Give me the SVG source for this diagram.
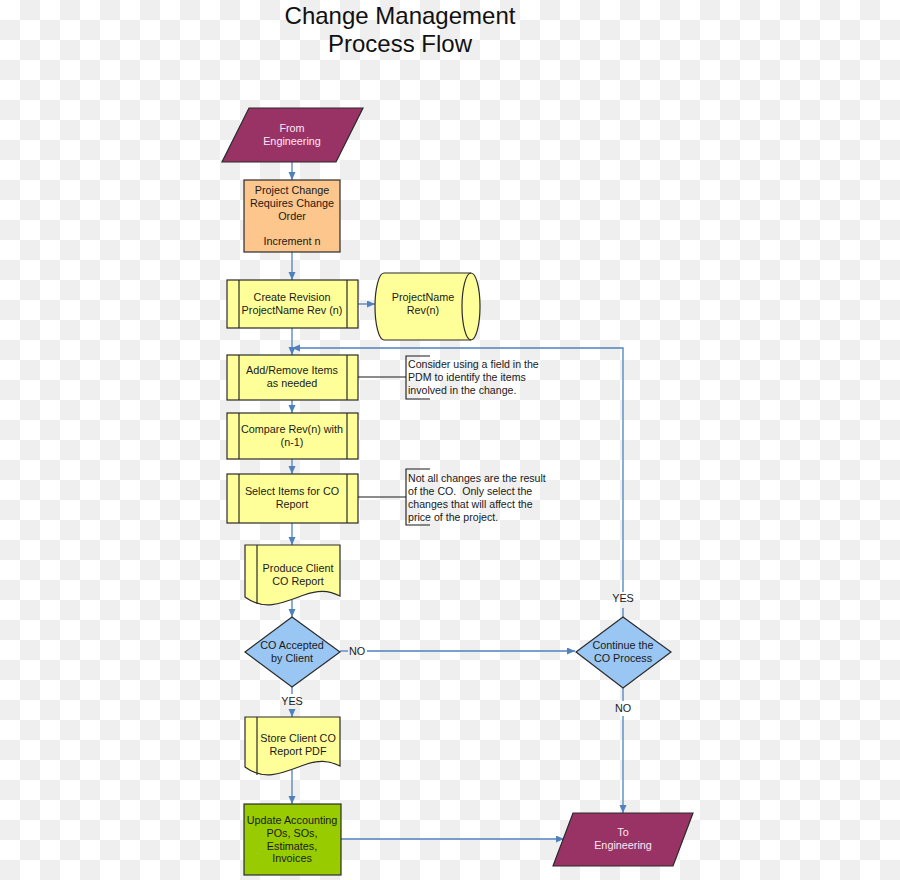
<svg xmlns="http://www.w3.org/2000/svg" width="900" height="880" viewBox="0 0 900 880">
<defs>
<pattern id="checker" x="0" y="0" width="40" height="40" patternUnits="userSpaceOnUse">
<rect width="40" height="40" fill="#ffffff"/>
<rect x="20" y="0" width="20" height="20" fill="#efefef"/>
<rect x="0" y="20" width="20" height="20" fill="#efefef"/>
</pattern>
<marker id="arr" markerUnits="userSpaceOnUse" markerWidth="9" markerHeight="8" refX="8" refY="3.5" orient="auto">
<path d="M0,0 L8,3.5 L0,7 Z" fill="#4f81bd"/>
</marker>
<style>
.t{font-family:"Liberation Sans",Arial,sans-serif;font-size:10.8px;fill:#1a1a1a;text-anchor:middle}
.a{font-family:"Liberation Sans",Arial,sans-serif;font-size:10.6px;fill:#1a1a1a;white-space:pre}
.w{font-family:"Liberation Sans",Arial,sans-serif;font-size:10.8px;fill:#fde6f3;text-anchor:middle}
.title{font-family:"Liberation Sans",Arial,sans-serif;font-size:24px;fill:#111;text-anchor:middle}
.n{stroke:#2b2b2b;stroke-width:1.2}
.io{fill:#993366}
.or{fill:#fcc68c}
.ye{fill:#ffff99}
.bl{fill:#99c6f2}
.gr{fill:#99cc00}
.c{fill:none;stroke:#4f81bd;stroke-width:1.3}
.k{fill:none;stroke:#1a1a1a;stroke-width:1.1}
</style>
</defs>
<rect width="900" height="880" fill="url(#checker)"/>

<g id="title">
<text class="title" x="400" y="24">Change Management</text>
<text class="title" x="400" y="52">Process Flow</text>
</g>

<g id="connectors">
<path class="c" d="M292,162 V180" marker-end="url(#arr)"/>
<path class="c" d="M292,252 V280" marker-end="url(#arr)"/>
<path class="c" d="M358,304 H375" marker-end="url(#arr)"/>
<path class="c" d="M292,328 V355" marker-end="url(#arr)"/>
<path class="c" d="M623,617 V608"/>
<path class="c" d="M623,592 V348 H292" marker-end="url(#arr)"/>
<path class="c" d="M292,400 V413" marker-end="url(#arr)"/>
<path class="c" d="M292,459 V474" marker-end="url(#arr)"/>
<path class="c" d="M292,523 V545" marker-end="url(#arr)"/>
<path class="c" d="M292,600 V617" marker-end="url(#arr)"/>
<path class="c" d="M340,651 H348"/>
<path class="c" d="M367,651 H575" marker-end="url(#arr)"/>
<path class="c" d="M292,687 V694"/>
<path class="c" d="M292,709 V717" marker-end="url(#arr)"/>
<path class="c" d="M623,688 V701"/>
<path class="c" d="M623,716 V813" marker-end="url(#arr)"/>
<path class="c" d="M292,770 V804" marker-end="url(#arr)"/>
<path class="c" d="M341,839 H564" marker-end="url(#arr)"/>
<path class="k" d="M358,377 H406"/>
<path class="k" d="M358,497 H406"/>
<text class="t" x="357" y="655">NO</text>
<text class="t" x="292" y="705">YES</text>
<text class="t" x="623" y="602">YES</text>
<text class="t" x="623" y="712">NO</text>
</g>

<g id="from-engineering">
<path class="n io" d="M249,108 H363 L336,162 H222 Z"/>
<text class="w" x="292" y="132">From</text>
<text class="w" x="292" y="145">Engineering</text>
</g>

<g id="project-change">
<rect class="n or" x="244" y="180" width="96" height="72"/>
<text class="t" x="292" y="194">Project Change</text>
<text class="t" x="292" y="207">Requires Change</text>
<text class="t" x="292" y="220">Order</text>
<text class="t" x="292" y="245">Increment n</text>
</g>

<g id="create-revision">
<rect class="n ye" x="227" y="280" width="131" height="48"/>
<path class="n" fill="none" d="M239,280 V328 M347,280 V328"/>
<text class="t" x="292" y="301">Create Revision</text>
<text class="t" x="292" y="314">ProjectName Rev (n)</text>
</g>

<g id="project-name-rev">
<path class="n ye" d="M384,273 H471 A9,33.5 0 0 1 471,340 H384 A9,33.5 0 0 1 384,273 Z"/>
<path class="n" fill="none" d="M471,273 A9,33.5 0 0 0 471,340"/>
<text class="t" x="423" y="301">ProjectName</text>
<text class="t" x="423" y="314">Rev(n)</text>
</g>

<g id="add-remove">
<rect class="n ye" x="227" y="355" width="131" height="45"/>
<path class="n" fill="none" d="M239,355 V400 M347,355 V400"/>
<text class="t" x="292" y="374">Add/Remove Items</text>
<text class="t" x="292" y="387">as needed</text>
</g>

<g id="note-1">
<path class="k" d="M430,356 H406 V399 H430"/>
<text class="a" x="408" y="368">Consider using a field in the</text>
<text class="a" x="408" y="381">PDM to identify the items</text>
<text class="a" x="408" y="394">involved in the change.</text>
</g>

<g id="compare">
<rect class="n ye" x="227" y="413" width="131" height="46"/>
<path class="n" fill="none" d="M239,413 V459 M347,413 V459"/>
<text class="t" x="292" y="433">Compare Rev(n) with</text>
<text class="t" x="292" y="446">(n-1)</text>
</g>

<g id="select-items">
<rect class="n ye" x="227" y="474" width="131" height="49"/>
<path class="n" fill="none" d="M239,474 V523 M347,474 V523"/>
<text class="t" x="292" y="495">Select Items for CO</text>
<text class="t" x="292" y="508">Report</text>
</g>

<g id="note-2">
<path class="k" d="M430,469 H406 V525 H430"/>
<text class="a" x="408" y="482">Not all changes are the result</text>
<text class="a" x="408" y="495" xml:space="preserve">of the CO.  Only select the</text>
<text class="a" x="408" y="508">changes that will affect the</text>
<text class="a" x="408" y="521">price of the project.</text>
</g>

<g id="produce-report">
<path class="n ye" d="M245,545 H340 V596 C328,590 318,590 304,595 C285,602 265,612 245,597 Z"/>
<path class="n" fill="none" d="M257,545 V604"/>
<text class="t" x="298" y="572">Produce Client</text>
<text class="t" x="298" y="585">CO Report</text>
</g>

<g id="co-accepted">
<path class="n bl" d="M292,617 L340,652 L292,687 L245,652 Z"/>
<text class="t" x="292" y="649">CO Accepted</text>
<text class="t" x="292" y="662">by Client</text>
</g>

<g id="continue-co">
<path class="n bl" d="M623,617 L671,652 L623,688 L576,652 Z"/>
<text class="t" x="623" y="649">Continue the</text>
<text class="t" x="623" y="662">CO Process</text>
</g>

<g id="store-report">
<path class="n ye" d="M245,717 H340 V766 C328,760 318,760 304,765 C285,772 265,782 245,767 Z"/>
<path class="n" fill="none" d="M257,717 V775"/>
<text class="t" x="298" y="742">Store Client CO</text>
<text class="t" x="298" y="755">Report PDF</text>
</g>

<g id="update-accounting">
<rect class="n gr" x="244" y="804" width="97" height="71"/>
<text class="t" x="292" y="824">Update Accounting</text>
<text class="t" x="292" y="837">POs, SOs,</text>
<text class="t" x="292" y="850">Estimates,</text>
<text class="t" x="292" y="862">Invoices</text>
</g>

<g id="to-engineering">
<path class="n io" d="M573,813 H693 L673,866 H553 Z"/>
<text class="w" x="623" y="836">To</text>
<text class="w" x="623" y="849">Engineering</text>
</g>
</svg>
